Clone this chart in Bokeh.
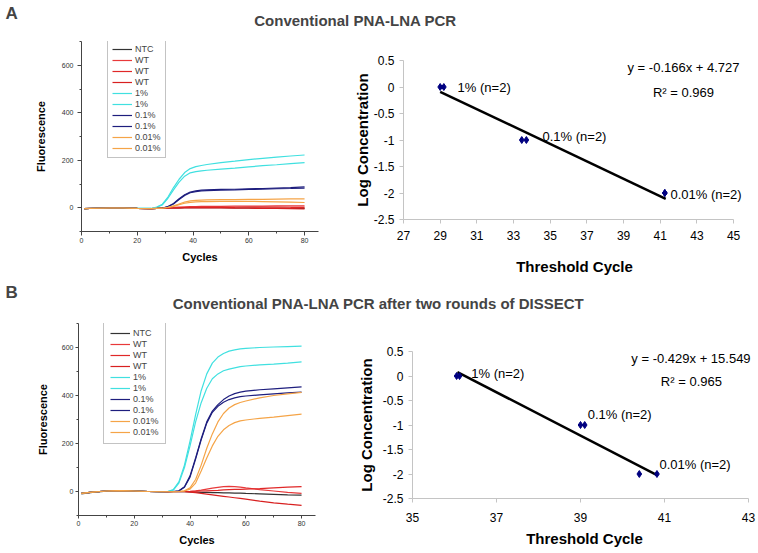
from bokeh.plotting import figure
from bokeh.models import Range1d, Label, Legend, LegendItem, SingleIntervalTicker, FixedTicker
from bokeh.layouts import column, row
from bokeh.embed import file_html
from bokeh.resources import INLINE

FONT = "Liberation Sans"

# ---------------- data: panel A amplification curves ----------------
cycles_a = [1, 5, 10, 15, 20, 25, 27, 29, 31, 33, 35, 37, 39, 41, 43, 45, 50, 55, 60, 65, 70, 75, 80]
a_ntc = [-4, -2, -1, -1, -3, -4, -3, -2, -1, -1, -1, 0, 0, 0, 0, 0, 0, -1, -1, -2, -2, -3, -3]
a_wt1 = [-4, -2, -1, -1, -3, -4, -3, -1, 1, 2, 3, 4, 5, 5, 6, 6, 6, 7, 7, 7, 8, 8, 8]
a_wt2 = [-4, -2, -1, -1, -3, -4, -3, -2, -1, 0, 1, 1, 2, 2, 2, 2, 2, 2, 3, 3, 3, 2, 2]
a_wt3 = [-4, -2, -1, -1, -3, -4, -3, -2, -2, -2, -2, -1, -1, -1, -1, -1, -1, -2, -2, -3, -3, -4, -5]
a_1pct_1 = [-4, -2, -1, -1, -3, -3, 3, 15, 45, 85, 120, 148, 165, 173, 178, 182, 190, 196, 203, 208, 213, 218, 222]
a_1pct_2 = [-4, -2, -1, -1, -3, -3, 2, 12, 40, 75, 108, 133, 147, 152, 155, 158, 163, 167, 172, 177, 181, 186, 190]
a_01pct_1 = [-4, -2, -1, -1, -3, -4, -3, -1, 5, 18, 38, 55, 66, 71, 74, 75, 77, 78, 80, 81, 83, 85, 88]
a_01pct_2 = [-4, -2, -1, -1, -3, -4, -3, -1, 4, 16, 35, 52, 63, 68, 71, 72, 74, 75, 77, 78, 80, 81, 83]
a_001pct_1 = [-4, -2, -1, -1, -3, -4, -3, -2, 2, 8, 16, 24, 29, 31, 32, 33, 34, 34, 35, 35, 36, 37, 37]
a_001pct_2 = [-4, -2, -1, -1, -3, -4, -3, -2, 1, 6, 13, 19, 23, 25, 26, 26, 27, 27, 27, 26, 25, 24, 22]

# ---------------- data: panel B amplification curves ----------------
cycles_b = [1, 5, 10, 15, 20, 25, 30, 32, 34, 36, 38, 40, 42, 44, 46, 48, 50, 52, 54, 56, 58, 60, 65, 70, 75, 80]
b_ntc = [-10, -4, 1, 3, 2, 0, -1, -1, -1, -1, -1, -2, -3, -4, -4, -5, -5, -6, -6, -7, -7, -8, -10, -12, -14, -15]
b_wt1 = [-8, -3, 2, 4, 2, 0, -1, -1, 0, 0, 0, 1, 3, 6, 10, 14, 17, 20, 21, 20, 18, 15, 8, 2, -4, -8]
b_wt2 = [-8, -3, 2, 4, 2, 0, -1, -1, 0, 0, 0, 0, 1, 2, 3, 4, 5, 7, 8, 9, 9, 10, 12, 15, 18, 20]
b_wt3 = [-8, -3, 2, 4, 2, 0, -1, -1, -1, -1, -1, -3, -5, -8, -11, -14, -17, -20, -23, -26, -29, -32, -40, -47, -53, -58]
b_1pct_1 = [-8, -3, 2, 4, 2, 0, -1, 0, 8, 40, 110, 210, 320, 420, 490, 535, 560, 575, 585, 590, 594, 596, 600, 602, 604, 606]
b_1pct_2 = [-8, -3, 2, 4, 2, 0, -1, 0, 6, 35, 100, 190, 290, 370, 430, 470, 490, 503, 510, 515, 520, 523, 528, 531, 535, 540]
b_01pct_1 = [-8, -3, 2, 4, 2, 0, -1, -1, 0, 3, 20, 65, 140, 220, 290, 335, 362, 383, 398, 408, 414, 418, 424, 428, 432, 436]
b_01pct_2 = [-8, -3, 2, 4, 2, 0, -1, -1, 0, 2, 18, 60, 135, 215, 285, 330, 355, 372, 383, 390, 395, 398, 403, 407, 411, 414]
b_001pct_1 = [-8, -3, 2, 4, 2, 0, -1, -1, -1, 0, 3, 15, 50, 110, 180, 240, 290, 325, 348, 362, 371, 377, 390, 400, 407, 413]
b_001pct_2 = [-8, -3, 2, 4, 2, 0, -1, -1, -1, 0, 2, 10, 35, 85, 140, 190, 230, 257, 275, 287, 294, 298, 305, 310, 316, 322]

series_labels = ["NTC", "WT", "WT", "WT", "1%", "1%", "0.1%", "0.1%", "0.01%", "0.01%"]
series_colors = ["#333333", "#e8393a", "#e02828", "#d82020", "#40e0e0", "#40e0e0",
                 "#1e1e7e", "#1e1e7e", "#f5a447", "#f5a447"]

# ---------------- data: standard curves ----------------
a_ct = [29.0, 29.2, 33.45, 33.7, 41.25, 41.25]
a_logc = [0, 0, -1, -1, -2, -2]
a_trend_x = [29.0, 41.3]
a_trend_y = [-0.09, -2.11]
a_equation = "y = -0.166x + 4.727"
a_r2 = "R\u00b2 = 0.969"

b_ct = [36.05, 36.12, 39.0, 39.1, 40.4, 40.82]
b_logc = [0, 0, -1, -1, -2, -2]
b_trend_x = [36.07, 40.81]
b_trend_y = [0.08, -2.02]
b_equation = "y = -0.429x + 15.549"
b_r2 = "R\u00b2 = 0.965"

point_labels = ["1% (n=2)", "0.1% (n=2)", "0.01% (n=2)"]

log_ticks = [-2.5, -2, -1.5, -1, -0.5, 0, 0.5]
log_tick_labels = ["-2.5", "-2", "-1.5", "-1", "-0.5", "0", "0.5"]
a_ct_ticks = [27, 29, 31, 33, 35, 37, 39, 41, 43, 45]
b_ct_ticks = [35, 37, 39, 41, 43]


def base_fig(w, h, xr, yr, bl, br, bt, bb):
    p = figure(width=w, height=h, x_range=Range1d(*xr), y_range=Range1d(*yr),
               toolbar_location=None, output_backend="svg",
               min_border_left=bl, min_border_right=br, min_border_top=bt, min_border_bottom=bb)
    p.outline_line_color = None
    p.grid.visible = False
    p.background_fill_color = "white"
    p.border_fill_color = "white"
    return p


def amp_fig(cycles, series, w, h, bl, br, bt, bb, leg_loc, leg_pad, tick_out,
            y_std, y_lab_std, x_std, x_lab_std):
    p = base_fig(w, h, (0, 85), (-100, 700), bl, br, bt, bb)
    p.xaxis.ticker = SingleIntervalTicker(interval=20, num_minor_ticks=2)
    p.yaxis.ticker = SingleIntervalTicker(interval=200, num_minor_ticks=2)
    for ax in (p.xaxis[0], p.yaxis[0]):
        ax.axis_line_color = "#444444"
        ax.major_tick_line_color = "#444444"
        ax.minor_tick_line_color = "#444444"
        ax.major_tick_in = 0
        ax.major_tick_out = tick_out
        ax.minor_tick_in = 0
        ax.minor_tick_out = 2
        ax.major_label_text_font = FONT
        ax.major_label_text_font_size = "7px"
        ax.major_label_text_color = "#333333"
        ax.axis_label_text_font = FONT
        ax.axis_label_text_font_size = "11px"
        ax.axis_label_text_font_style = "bold"
        ax.axis_label_text_color = "black"
    p.xaxis.axis_label = "Cycles"
    p.yaxis.axis_label = "Fluorescence"
    p.yaxis.major_label_standoff = y_std
    p.yaxis.axis_label_standoff = y_lab_std
    p.xaxis.major_label_standoff = x_std
    p.xaxis.axis_label_standoff = x_lab_std
    items = []
    for vals, lab, col in zip(series, series_labels, series_colors):
        r = p.line(cycles, vals, line_color=col, line_width=1.2)
        items.append(LegendItem(label=lab, renderers=[r]))
    leg = Legend(items=items, location=leg_loc)
    leg.label_text_font = FONT
    leg.label_text_font_size = "9px"
    leg.label_height = 10
    leg.glyph_height = 10
    leg.glyph_width = 20
    leg.label_standoff = 3
    leg.spacing = 1
    leg.padding = leg_pad
    leg.margin = 0
    leg.border_line_color = "#888888"
    leg.border_line_width = 1
    leg.background_fill_color = "white"
    leg.background_fill_alpha = 1
    p.add_layout(leg)
    return p


def std_fig(xr, xbounds, xticks, ct, logc, tx, ty, eq, r2, eq_xy, r2_xy, lab_x, lab_y,
            w, h, bl, br, bt, bb, x_std, x_lab_std, y_std, y_lab_std):
    p = base_fig(w, h, xr, (log_ticks[0], log_ticks[-1]), bl, br, bt, bb)
    p.xaxis.ticker = FixedTicker(ticks=xticks)
    p.yaxis.ticker = FixedTicker(ticks=log_ticks)
    p.yaxis.major_label_overrides = {t: s for t, s in zip(log_ticks, log_tick_labels)}
    p.xaxis.bounds = xbounds
    for ax in (p.xaxis[0], p.yaxis[0]):
        ax.axis_line_color = "#c4c4c4"
        ax.major_tick_line_color = "#c4c4c4"
        ax.minor_tick_line_color = None
        ax.major_tick_in = 0
        ax.major_tick_out = 4
        ax.major_label_text_font = FONT
        ax.major_label_text_font_size = "12px"
        ax.major_label_text_color = "black"
        ax.axis_label_text_font = FONT
        ax.axis_label_text_font_size = "15px"
        ax.axis_label_text_font_style = "bold"
        ax.axis_label_text_color = "black"
    p.xaxis.axis_label = "Threshold Cycle"
    p.yaxis.axis_label = "Log Concentration"
    p.xaxis.major_label_standoff = x_std
    p.xaxis.axis_label_standoff = x_lab_std
    p.yaxis.major_label_standoff = y_std
    p.yaxis.axis_label_standoff = y_lab_std
    p.line(tx, ty, line_color="black", line_width=2.5)
    p.scatter(ct, logc, marker="diamond", size=7, color="#000080")
    for txt, lx, ly in zip(point_labels, lab_x, lab_y):
        p.add_layout(Label(x=lx, y=ly, text=txt, text_font=FONT, text_font_size="13px",
                           text_align="left", text_baseline="middle", text_color="black"))
    p.add_layout(Label(x=eq_xy[0], y=eq_xy[1], text=eq, text_font=FONT, text_font_size="13px",
                       text_align="center", text_baseline="middle", text_color="black"))
    p.add_layout(Label(x=r2_xy[0], y=r2_xy[1], text=r2, text_font=FONT, text_font_size="13px",
                       text_align="center", text_baseline="middle", text_color="black"))
    return p


def title_fig(h, letter, letter_y, title, title_x, title_y):
    p = figure(width=758, height=h, x_range=Range1d(0, 758), y_range=Range1d(0, h),
               x_axis_type=None, y_axis_type=None, toolbar_location=None,
               output_backend="svg", min_border=0)
    p.outline_line_color = None
    p.add_layout(Label(x=5, y=letter_y, text=letter, text_font=FONT, text_font_size="17px",
                       text_font_style="bold", text_align="left", text_baseline="middle"))
    p.add_layout(Label(x=title_x, y=title_y, text=title, text_font=FONT, text_font_size="15px",
                       text_font_style="bold", text_align="center", text_baseline="middle"))
    return p


titleA = title_fig(30, "A", 17.5, "Conventional PNA-LNA PCR", 355, 10)
titleB = title_fig(32, "B", 20, "Conventional PNA-LNA PCR after two rounds of DISSECT", 378, 9)

# row A: canvas y 30..280
A1 = amp_fig(cycles_a,
             [a_ntc, a_wt1, a_wt2, a_wt3, a_1pct_1, a_1pct_2, a_01pct_1, a_01pct_2, a_001pct_1, a_001pct_2],
             w=350, h=250, bl=81, br=32, bt=11, bb=49, leg_loc=(26, 73), leg_pad=4, tick_out=4,
             y_std=4, y_lab_std=12, x_std=2, x_lab_std=5)
A2 = std_fig((27, 45.65), (27, 45), a_ct_ticks, a_ct, a_logc, a_trend_x, a_trend_y, a_equation, a_r2,
             (42.27, 0.368), (42.27, -0.104), [29.95, 34.58, 41.56], [0.0, -0.93, -2.03],
             w=408, h=250, bl=53, br=13, bt=30, bb=61, x_std=7, x_lab_std=15, y_std=5, y_lab_std=0)

# row B: canvas y 312..553
B1 = amp_fig(cycles_b,
             [b_ntc, b_wt1, b_wt2, b_wt3, b_1pct_1, b_1pct_2, b_01pct_1, b_01pct_2, b_001pct_1, b_001pct_2],
             w=350, h=241, bl=78, br=35, bt=11, bb=38, leg_loc=(25, 71), leg_pad=6, tick_out=3,
             y_std=2, y_lab_std=10, x_std=2, x_lab_std=5)
B2 = std_fig((35, 43.19), (35, 43), b_ct_ticks, b_ct, b_logc, b_trend_x, b_trend_y, b_equation, b_r2,
             (41.63, 0.357), (41.64, -0.11), [36.40, 39.17, 40.88], [0.05, -0.79, -1.81],
             w=408, h=241, bl=62, br=2, bt=39, bb=55, x_std=10, x_lab_std=5, y_std=5, y_lab_std=5)

layout = column(titleA, row(column(A1), column(A2)), titleB, row(column(B1), column(B2)))

open("out.html", "w").write(file_html(layout, INLINE))
